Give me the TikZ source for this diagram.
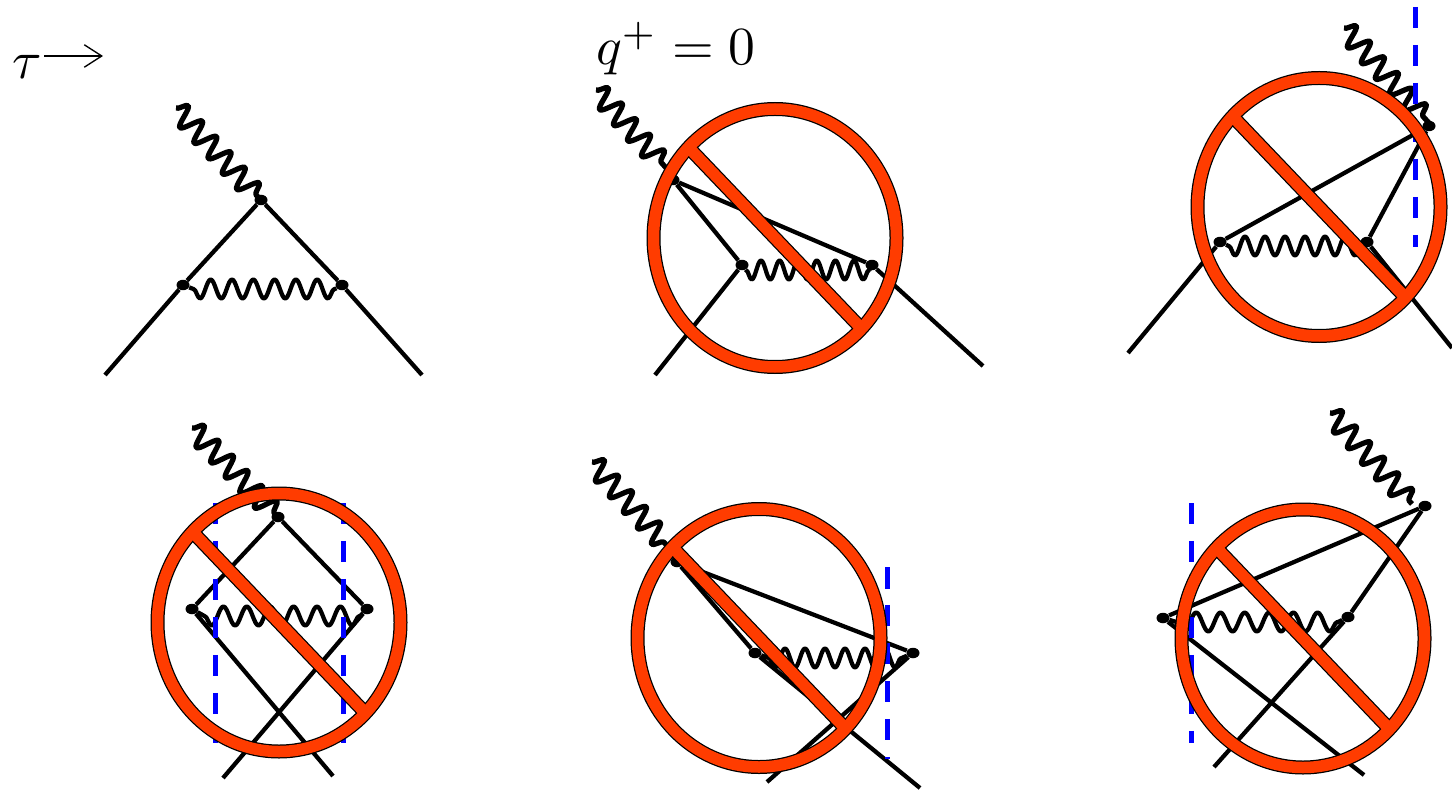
\documentclass[tikz,border=0pt]{standalone}
\usepackage{amsmath,amssymb}
\usepackage{tikz}
\usetikzlibrary{arrows.meta,decorations.pathmorphing,shapes.geometric}

\definecolor{ringred}{RGB}{255,60,0}
\definecolor{cutblue}{RGB}{0,0,255}

\begin{document}
\begin{tikzpicture}[
  x=0.02cm, y=-0.02cm,
  lbl/.style={scale=3.05, inner sep=0pt},
  vtx/.style={ellipse, fill=black, inner sep=0pt, minimum width=0.26cm, minimum height=0.21cm},
  fermion/.style={draw=black, line width=0.085cm},
  gluon/.style={draw=black, line width=0.085cm, line join=round,
    decoration={snake, segment length=#1, amplitude=0.19cm, mirror}},
  photon/.style={draw=black, line width=0.105cm, line join=round,
    decoration={snake, segment length=0.42cm, amplitude=0.21cm}},
  cutline/.style={draw=cutblue, line width=0.1cm, dash pattern=on 0.43cm off 0.33cm},
  ringout/.style={draw=black, line width=0.28cm},
  ringin/.style={draw=ringred, line width=0.23cm},
  timearrow/.style={draw=black, line width=0.027cm, -{Straight Barb[length=0.35cm, width=0.45cm]}}
]
\useasboundingbox (0,0) rectangle (1452,790);

% labels
\node[lbl, anchor=base west] (ntau) at (11,79) {$\tau$};
\coordinate (narrow) at (103,56);
\draw[timearrow] (44,56) -- (narrow);
\node[lbl, anchor=base west] (nqplus) at (595,65) {$q^{+}=0$};

% vertex diagram
\node[vtx] (v1t) at (261,200) {};
\node[vtx] (v1l) at (183,285) {};
\node[vtx] (v1r) at (342,285) {};
\coordinate (e1l) at (105,375);
\coordinate (e1r) at (422,375);
\coordinate (p1a) at (176,108);
\coordinate (p1b) at (258,197);
\coordinate (g1a) at (193.4,289);
\coordinate (g1b) at (335,289);
\draw[fermion] (e1l) -- (v1l);
\draw[fermion] (v1l) -- (v1t);
\draw[fermion] (v1t) -- (v1r);
\draw[fermion] (v1r) -- (e1r);
\draw[gluon=0.426cm] (v1l) -- (g1a) decorate {-- (g1b)} -- (v1r);
\draw[photon] (p1a) decorate {-- (p1b)} -- (v1t);

% q+ = 0 diagram
\node[vtx] (v2t) at (673,180) {};
\node[vtx] (v2l) at (742,265) {};
\node[vtx] (v2r) at (872,265) {};
\coordinate (e2l) at (655,375);
\coordinate (e2r) at (983,366);
\coordinate (p2a) at (596,90);
\coordinate (p2b) at (668,170);
\coordinate (g2a) at (745.9,270);
\coordinate (g2b) at (869.6,270);
\draw[fermion] (e2l) -- (v2l);
\draw[fermion] (v2l) -- (v2t);
\draw[fermion] (v2t) -- (v2r);
\draw[fermion] (v2r) -- (e2r);
\draw[gluon=0.372cm] (v2l) -- (g2a) decorate {-- (g2b)} -- (v2r);
\draw[photon] (p2a) decorate {-- (p2b)} -- (v2t);

% top right
\node[vtx] (v3t) at (1429,126) {};
\node[vtx] (v3l) at (1220,242) {};
\node[vtx] (v3r) at (1367,242) {};
\coordinate (e3l) at (1128,353);
\coordinate (e3r) at (1452,348);
\coordinate (p3a) at (1344,28);
\coordinate (p3b) at (1428,122);
\coordinate (g3a) at (1228.75,246);
\coordinate (g3b) at (1361.75,246);
\coordinate (c3a) at (1415,7);
\coordinate (c3b) at (1415,247);
\draw[fermion] (e3l) -- (v3l);
\draw[fermion] (v3l) -- (v3t);
\draw[fermion] (v3t) -- (v3r);
\draw[fermion] (v3r) -- (e3r);
\draw[gluon=0.4cm] (v3l) -- (g3a) decorate {-- (g3b)} -- (v3r);
\draw[photon] (p3a) decorate {-- (p3b)} -- (v3t);
\draw[cutline] (c3a) -- (c3b);

% lower left
\node[vtx] (v4t) at (278,517) {};
\node[vtx] (v4l) at (192,609) {};
\node[vtx] (v4r) at (367,609) {};
\coordinate (e4l) at (223,778);
\coordinate (e4r) at (333,776);
\coordinate (p4a) at (192,428);
\coordinate (p4b) at (275,514);
\coordinate (g4a) at (204.4,616);
\coordinate (g4b) at (360,616);
\coordinate (c4a) at (215,503);
\coordinate (c4b) at (215,743);
\coordinate (c4c) at (343,503);
\coordinate (c4d) at (343,743);
\draw[fermion] (v4l) -- (e4r);
\draw[fermion] (v4l) -- (v4t);
\draw[fermion] (v4t) -- (v4r);
\draw[fermion] (v4r) -- (e4l);
\draw[gluon=0.468cm] (v4l) -- (g4a) decorate {-- (g4b)} -- (v4r);
\draw[photon] (p4a) decorate {-- (p4b)} -- (v4t);
\draw[cutline] (c4a) -- (c4b);
\draw[cutline] (c4c) -- (c4d);

% lower middle
\node[vtx] (v5t) at (677,562) {};
\node[vtx] (v5l) at (755,653) {};
\node[vtx] (v5r) at (913,653) {};
\coordinate (e5l) at (767,782);
\coordinate (e5r) at (920,788);
\coordinate (p5a) at (592,462);
\coordinate (p5b) at (670,549);
\coordinate (g5a) at (768.75,658);
\coordinate (g5b) at (901.75,658);
\coordinate (c5a) at (887,567);
\coordinate (c5b) at (887,759);
\draw[fermion] (v5l) -- (e5r);
\draw[fermion] (v5l) -- (v5t);
\draw[fermion] (v5t) -- (v5r);
\draw[fermion] (v5r) -- (e5l);
\draw[gluon=0.4cm] (v5l) -- (g5a) decorate {-- (g5b)} -- (v5r);
\draw[photon] (p5a) decorate {-- (p5b)} -- (v5t);
\draw[cutline] (c5a) -- (c5b);

% lower right
\node[vtx] (v6t) at (1425,506) {};
\node[vtx] (v6l) at (1163,618) {};
\node[vtx] (v6r) at (1348,617) {};
\coordinate (e6l) at (1214,767);
\coordinate (e6r) at (1364,775);
\coordinate (p6a) at (1330,413);
\coordinate (p6b) at (1412,504);
\coordinate (g6a) at (1176.4,622);
\coordinate (g6b) at (1338,622);
\coordinate (c6a) at (1191,503);
\coordinate (c6b) at (1191,743);
\draw[fermion] (v6l) -- (e6r);
\draw[fermion] (v6l) -- (v6t);
\draw[fermion] (v6t) -- (v6r);
\draw[fermion] (v6r) -- (e6l);
\draw[gluon=0.486cm] (v6l) -- (g6a) decorate {-- (g6b)} -- (v6r);
\draw[photon] (p6a) decorate {-- (p6b)};
\draw[cutline] (c6a) -- (c6b);

% crossed out rings
\foreach \cx/\cy in {775/238, 1319/207, 279/622.5, 759/638, 1303/638.5} {
  \draw[ringout] (\cx,\cy) ellipse [x radius=121.5, y radius=129];
  \draw[ringout] (\cx,\cy) +(-84,-88) -- +(84,88);
  \draw[ringin] (\cx,\cy) ellipse [x radius=121.5, y radius=129];
  \draw[ringin] (\cx,\cy) +(-84,-88) -- +(84,88);
}

\end{tikzpicture}
\end{document}
